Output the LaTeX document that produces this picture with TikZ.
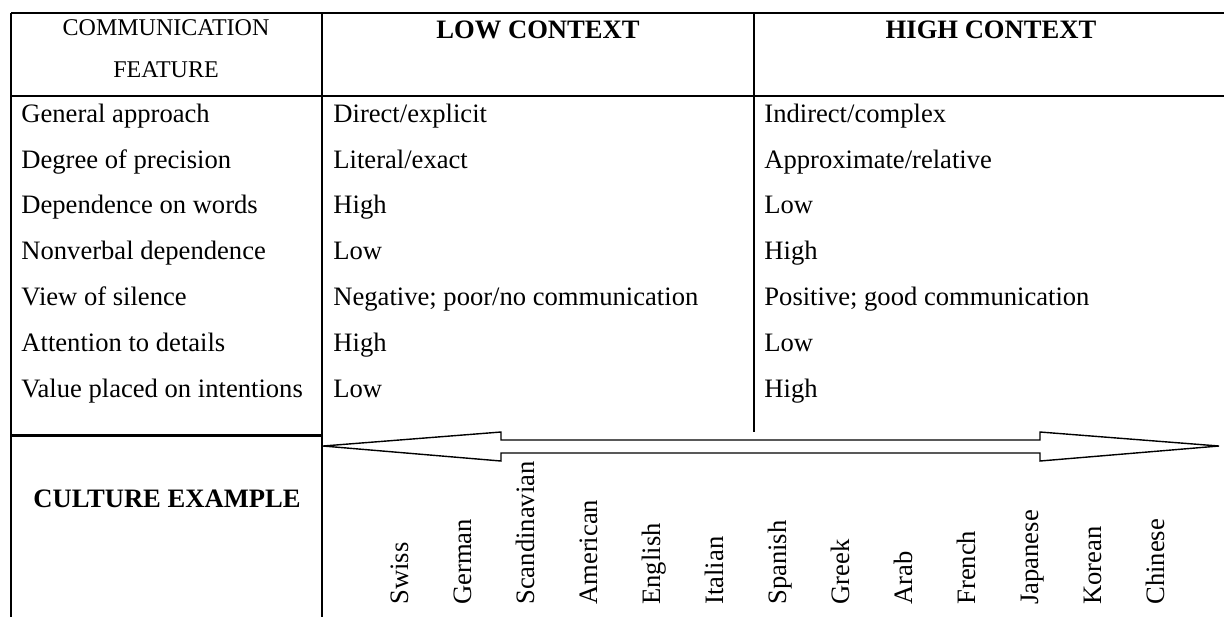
\documentclass[tikz,border=0pt]{standalone}
\usepackage{fontspec}
\setmainfont{Liberation Serif}
\begin{document}
\begin{tikzpicture}[x=0.5pt,y=-0.5pt,
  txt/.style={anchor=base west,inner sep=0pt,font=\fontsize{13.3}{15}\selectfont},
  hdr/.style={anchor=base,inner sep=0pt,font=\fontsize{12}{14}\selectfont},
  hdrb/.style={anchor=base,inner sep=0pt,font=\fontsize{13.3}{15}\selectfont\bfseries},
  cult/.style={anchor=base west,inner sep=0pt,rotate=90,font=\fontsize{13.3}{15}\selectfont},
  rule/.style={line width=0.75pt},
  thickrule/.style={line width=1.5pt},
  blockarrow/.style={line width=0.7pt,line join=miter}]
\useasboundingbox (0,0) rectangle (1224,617);
% grid lines
\draw[rule] (11,13) -- (1224,13);
\draw[rule] (11,96) -- (1224,96);
\draw[rule] (11,13) -- (11,617);
\draw[rule] (322,13) -- (322,617);
\draw[rule] (754,13) -- (754,432);
\draw[thickrule] (11,435) -- (322,435);
% header
\node[hdr] (h1a) at (166,35) {COMMUNICATION};
\node[hdr] (h1b) at (166,77) {FEATURE};
\node[hdrb] (h2) at (538,38) {LOW CONTEXT};
\node[hdrb] (h3) at (991,38) {HIGH CONTEXT};
% rows
\foreach \y/\a/\b/\c [count=\i] in {
  122/General approach/Direct\slash explicit/Indirect\slash complex,
  168/Degree of precision/Literal\slash exact/Approximate\slash relative,
  213/Dependence on words/High/Low,
  259/Nonverbal dependence/Low/High,
  305/View of silence/Negative; poor\slash no communication/Positive; good communication,
  351/Attention to details/High/Low,
  397/Value placed on intentions/Low/High}{
  \node[txt] (ra\i) at (21,\y) {\a};
  \node[txt] (rb\i) at (333,\y) {\b};
  \node[txt] (rc\i) at (764,\y) {\c};
}
% culture
\node[hdrb] (ce) at (167,507) {CULTURE EXAMPLE};
\draw[blockarrow] (323,446) -- (501,432) -- (501,440) -- (1040,440) -- (1040,432)
  -- (1219,446) -- (1040,461) -- (1040,453) -- (501,453) -- (501,461) -- cycle;
\foreach \x/\n [count=\i] in {408/Swiss,471/German,534/Scandinavian,597/American,660/English,723/Italian,786/Spanish,849/Greek,912/Arab,975/French,1038/Japanese,1101/Korean,1164/Chinese}{
  \node[cult] (c\i) at (\x,605) {\n};
}
\end{tikzpicture}
\end{document}
